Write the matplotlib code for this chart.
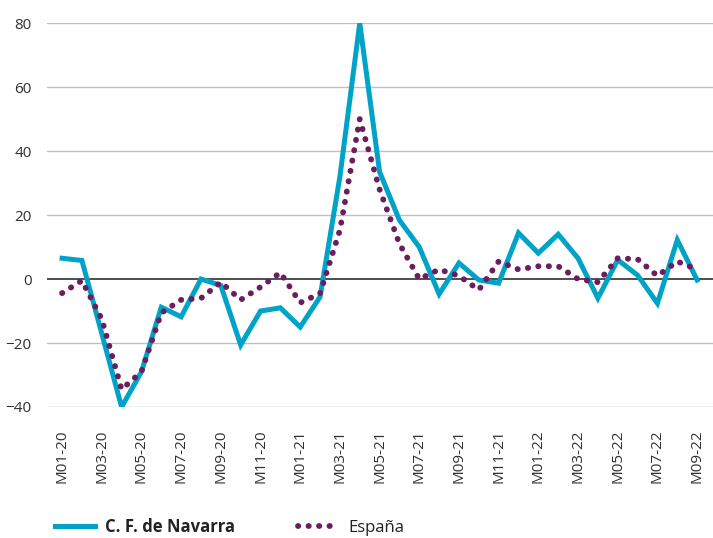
import matplotlib

matplotlib.use("Agg")
import matplotlib.pyplot as plt

plt.rcParams["font.family"] = ["Open Sans", "DejaVu Sans"]

# monthly series M01-20 .. M09-22
months = [f"M{m:02d}-{y}" for y in (20, 21, 22) for m in range(1, 13)][:33]
navarra = [6.5, 5.8, -17, -40, -29, -8.8, -11.8, 0, -2, -20.6, -10, -9,
           -15, -5.6, 32, 80, 33.5, 18.4, 10, -4.7, 5, -0.3, -1.3, 14.4,
           8.1, 14, 6.5, -6, 6, 1.2, -7.6, 12.2, -0.3]
espana = [-4.4, -0.5, -12.5, -34.5, -29, -10.6, -6.5, -6, -1, -6.5, -2.5, 2,
          -7.4, -4.5, 15.3, 50, 28, 11, 0, 3, 1, -3.4, 5.5, 3,
          4, 4, 0, -1, 6.5, 6.2, 1, 5.5, 3]
yticks = [-40, -20, 0, 20, 40, 60, 80]

BLUE = "#00A3C8"
PURPLE = "#6B1D5F"
TXT = "#303030"

fig = plt.figure(figsize=(7.13, 5.38), dpi=100)
ax = fig.add_axes([0.0659, 0.2435, 0.9341, 0.7135])

x = list(range(len(months)))
for v in yticks:
    if v == 0:
        continue
    ax.axhline(v, color="#BFBFBF", lw=1, zorder=0)
ax.axhline(0, color="#404040", lw=1.3, zorder=1)

l1, = ax.plot(x, navarra, color=BLUE, lw=3.6, solid_joinstyle="miter",
              label="C. F. de Navarra", zorder=2)
l2, = ax.plot(x, espana, color=PURPLE, lw=4.2, linestyle=(0, (0.05, 1.75)),
              dash_capstyle="round", label="España", zorder=3)

ax.set_xlim(-0.76, 32.8)
ax.set_ylim(-40, 80)
ax.set_yticks(yticks)
ax.set_yticklabels([f"{v}".replace("-", "\u2212") for v in yticks],
                   fontsize=11, color=TXT)
ax.set_xticks(x[::2])
ax.set_xticklabels(months[::2], rotation=90, fontsize=11, color=TXT)
ax.tick_params(axis="x", length=0, pad=16)
ax.tick_params(axis="y", length=0, pad=11)
for s in ax.spines.values():
    s.set_visible(False)

leg = fig.legend(handles=[l1, l2], loc="center left",
                 bbox_to_anchor=(0.065, 0.02), ncol=2, frameon=False,
                 fontsize=12, handlelength=2.4, handletextpad=0.6,
                 columnspacing=3.8, borderpad=0)
leg.get_texts()[0].set_fontweight("bold")
for t in leg.get_texts():
    t.set_color("#222222")

fig.savefig("out.png", dpi=100)
